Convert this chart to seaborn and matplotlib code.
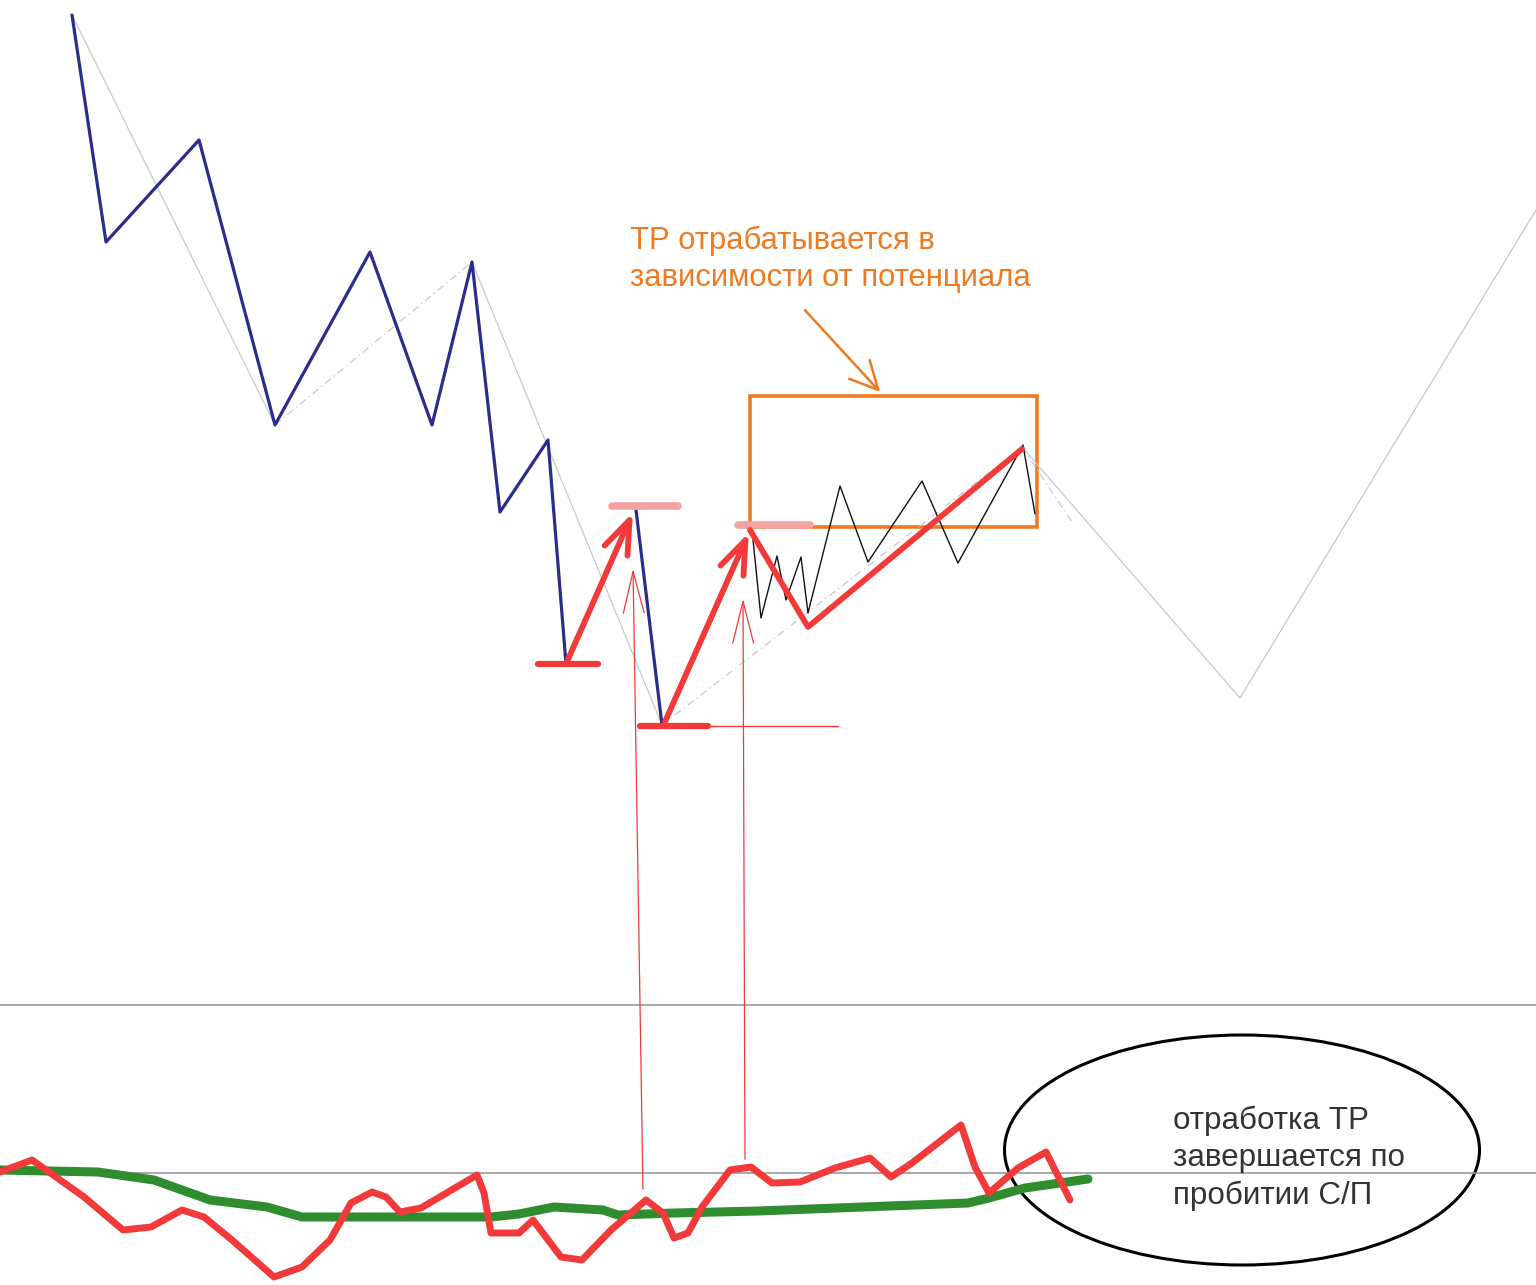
import numpy as np
import pandas as pd
import matplotlib.pyplot as plt
from matplotlib.patches import Rectangle, Ellipse
import seaborn as sns

# price zigzag (blue), coordinates in chart units (y grows downward)
blue_x = [72, 106, 199, 275, 370, 432, 472, 500, 548, 566]
blue_y = [15, 242, 140, 425, 252, 425, 262, 512, 440, 664]
blue2_x = [636, 662]
blue2_y = [510, 725]

# big zigzag (light gray)
gray_solid = [([72, 275], [15, 425]), ([472, 662], [262, 725]),
              ([1022, 1240, 1536], [447, 698, 210])]
gray_dash = [([275, 472], [425, 262]), ([662, 1022], [725, 447]),
             ([1022, 1072], [447, 522])]

# small black zigzag inside the range
black_x = [752, 761, 777, 786, 801, 808, 840, 868, 922, 958, 1023, 1035]
black_y = [530, 618, 556, 600, 557, 613, 486, 562, 481, 563, 445, 514]

# thick red moves
red_arrows = [((566, 664), (634, 510)), ((664, 724), (750, 530))]
red_tail_x = [750, 808, 1022]
red_tail_y = [530, 627, 449]

# levels
red_levels = [(538, 598, 664), (640, 708, 726)]
pink_levels = [(612, 678, 506), (738, 810, 525)]

# indicator panel
osc_x = [0, 32, 56, 84, 123, 151, 182, 204, 232, 274, 302, 330, 351, 372, 386,
         400, 421, 477, 484, 491, 519, 533, 561, 582, 611, 646, 663, 674, 688,
         702, 730, 751, 772, 800, 835, 870, 891, 912, 961, 975, 989, 1018,
         1046, 1070]
osc_y = [1172, 1160, 1177, 1197, 1230, 1227, 1210, 1217, 1240, 1277, 1267,
         1240, 1203, 1192, 1197, 1212, 1208, 1175, 1193, 1233, 1233, 1220,
         1257, 1260, 1230, 1200, 1213, 1238, 1233, 1207, 1170, 1167, 1183,
         1182, 1168, 1158, 1177, 1163, 1125, 1167, 1193, 1168, 1152, 1200]
sig_x = [0, 98, 154, 210, 267, 302, 491, 519, 554, 603, 618, 674, 758, 968,
         989, 1025, 1088]
sig_y = [1170, 1172, 1180, 1200, 1207, 1217, 1217, 1214, 1207, 1210, 1215,
         1213, 1211, 1203, 1198, 1188, 1179]

note_top = "ТР отрабатывается в\nзависимости от потенциала"
note_bottom = "отработка ТР\nзавершается по\nпробитии С/П"

BLUE = "#2c2c8a"
RED = "#f23a3a"
PINK = "#f4a3a3"
ORANGE = "#ef7a22"
GREEN = "#2f8c2f"
GRAY = "#c9c9c9"

sns.set_style("white")
plt.rcParams["font.family"] = ["Liberation Sans", "DejaVu Sans"]

fig = plt.figure(figsize=(15.36, 12.85), dpi=100)
ax = fig.add_axes([0, 0, 1, 1])
ax.set_xlim(0, 1536)
ax.set_ylim(1285, 0)
ax.axis("off")

# panel separator and zero line
ax.axhline(1005, color="#9a9a9a", lw=1.2)
ax.axhline(1173, color="#9a9a9a", lw=1.2)

for xs, ys in gray_solid:
    sns.lineplot(x=xs, y=ys, sort=False, estimator=None, ax=ax, color=GRAY, lw=0.9)
for xs, ys in gray_dash:
    sns.lineplot(x=xs, y=ys, sort=False, estimator=None, ax=ax, color=GRAY,
                 lw=0.9, linestyle=(0, (6, 3, 1, 3)))

sns.lineplot(x=blue_x, y=blue_y, sort=False, estimator=None, ax=ax, color=BLUE, lw=2.3)
sns.lineplot(x=blue2_x, y=blue2_y, sort=False, estimator=None, ax=ax, color=BLUE, lw=2.3)
sns.lineplot(x=black_x, y=black_y, sort=False, estimator=None, ax=ax, color="#111111", lw=1.0)

for x0, x1, y in pink_levels:
    sns.lineplot(x=[x0, x1], y=[y, y], ax=ax, color=PINK, lw=5.5)
for x0, x1, y in red_levels:
    sns.lineplot(x=[x0, x1], y=[y, y], ax=ax, color=RED, lw=4.5)
sns.lineplot(x=[700, 838], y=[726, 726], ax=ax, color=RED, lw=1.0)

for (x0, y0), (x1, y1) in red_arrows:
    ax.annotate("", xy=(x1, y1), xytext=(x0, y0),
                arrowprops=dict(arrowstyle="->,head_length=0.8,head_width=0.3",
                                color=RED, lw=4.2, mutation_scale=30))
sns.lineplot(x=red_tail_x, y=red_tail_y, sort=False, estimator=None, ax=ax, color=RED, lw=4.2)

# thin red pointers from the indicator up to the price
for (x0, y0), (x1, y1) in [((643, 1192), (633, 566)), ((745, 1162), (743, 596))]:
    ax.annotate("", xy=(x1, y1), xytext=(x0, y0),
                arrowprops=dict(arrowstyle="->,head_length=1.2,head_width=0.3",
                                color=RED, lw=0.9, mutation_scale=25))

# range box and note
ax.add_patch(Rectangle((750, 396), 287, 131, fill=False, ec=ORANGE, lw=2.6))
ax.annotate("", xy=(882, 394), xytext=(803, 308),
            arrowprops=dict(arrowstyle="->,head_length=0.8,head_width=0.4",
                            color=ORANGE, lw=1.8, mutation_scale=25))
ax.text(630, 226, note_top, color=ORANGE, fontsize=22.3, va="top", ha="left",
        linespacing=1.31)

# indicator lines
sns.lineplot(x=sig_x, y=sig_y, sort=False, estimator=None, ax=ax, color=GREEN, lw=6.5)
sns.lineplot(x=osc_x, y=osc_y, sort=False, estimator=None, ax=ax, color=RED, lw=5)

ax.add_patch(Ellipse((1242, 1150), 475, 230, fill=False, ec="black", lw=2.2))
ax.text(1173, 1106, note_bottom, color="#333333", fontsize=22.6, va="top", ha="left",
        linespacing=1.3)

fig.savefig("out.png", dpi=100)
plt.close(fig)
